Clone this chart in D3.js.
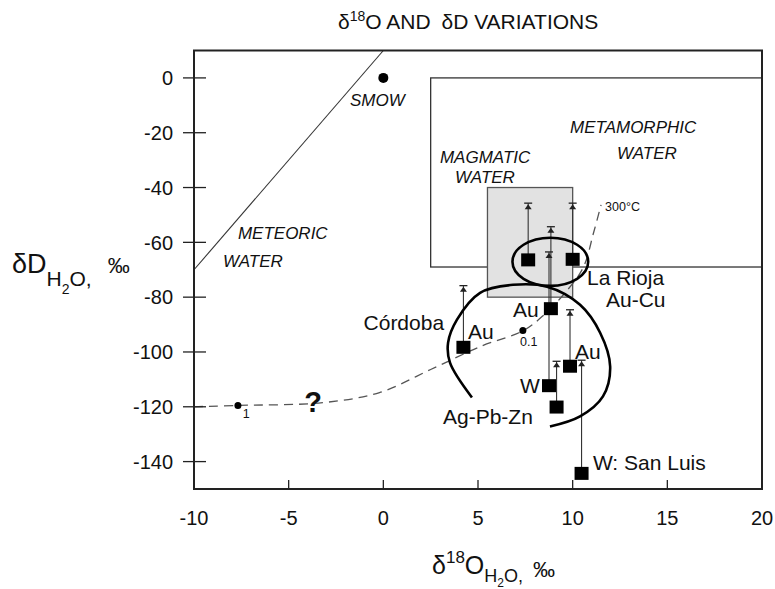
<!DOCTYPE html>
<html><head><meta charset="utf-8">
<script src="https://cdn.jsdelivr.net/npm/d3@7"></script>
<style>
html,body{margin:0;padding:0;background:#fff;}
text{font-family:"Liberation Sans",Arial,sans-serif;fill:#111;}
</style></head>
<body>
<svg id="chart" width="775" height="589"></svg>
<script>
// ---- data ----
const xTicks = [-10, -5, 0, 5, 10, 15, 20];
const yTicks = [0, -20, -40, -60, -80, -100, -120, -140];
// samples: d18O, dD, error-bar top dD
const sampleX   = [7.65, 10.0, 8.85, 8.75, 4.23, 9.86, 9.15, 10.47];
const sampleY   = [-66.4, -66.2, -84.2, -112.3, -98.3, -105.2, -120.1, -144.3];
const sampleTop = [-45.7, -45.7, -54.3, -63.5, -75.8, -84.6, -103.4, -103.0];
// meteoric water line end points
const meteoricX = [-10, 0];
const meteoricY = [-70, 10];
// boxes [x0, x1, y0, y1]
const metamorphicBox = [2.5, 20, 0, -69];
const magmaticBox = [5.5, 10, -40, -80];
// SMOW
const smow = [0, 0];
// mixing curve (dashed)
const mixX = [-10, -7.7, -3.2, -0.2, 2.5, 5.2, 7.4, 8.4, 9.5, 10.55, 11.1, 11.5];
const mixY = [-120, -119.5, -118.5, -114.8, -106.4, -97.8, -92.2, -87, -79.2, -69.3, -56.6, -46.3];
const mixDotX = [-7.68, 7.37];
const mixDotY = [-119.5, -92.2];
// La Rioja ellipse [cx, cy, rx, ry]
const rioja = [8.82, -67.1, 2.0, 8.8];
// Cordoba arc
const cordX = [4.68, 3.52, 3.42, 3.89, 5.11, 6.85, 8.65, 10.39, 11.45, 11.98, 11.6, 10.39, 8.8];
const cordY = [-116.6, -103.9, -96.6, -88.2, -78.4, -75.5, -76.2, -82.8, -93.0, -105.3, -116.2, -123.5, -127.2];
// labels
const labelText   = ["Córdoba", "Au", "Au", "Au", "W", "Ag-Pb-Zn", "W: San Luis", "La Rioja", "Au-Cu"];
const labelX      = [3.21, 4.47, 6.85, 10.12, 7.22, 3.15, 11.07, 10.76, 11.76];
const labelY      = [-92.0, -95.3, -87.3, -102.5, -114.9, -126.2, -142.9, -75.4, -83.6];
const labelAnchor = ["end", "start", "start", "start", "start", "start", "start", "start", "start"];
const fieldText = ["SMOW", "METEORIC", "WATER", "METAMORPHIC", "WATER", "MAGMATIC", "WATER"];
const fieldX    = [-1.76, -7.68, -8.47, 9.86, 12.34, 2.99, 3.79];
const fieldY    = [-10.3, -58.7, -69.0, -20.2, -29.6, -31.0, -38.4];
const smallText = ["300°C", "0.1", "1"];
const smallX    = [11.71, 7.22, -7.42];
const smallY    = [-48.6, -97.7, -124.2];

// ---- chart ----
const svg = d3.select("#chart");
const x = d3.scaleLinear().domain([-10, 20]).range([194, 762]);
const y = d3.scaleLinear().domain([-150, 10]).range([489, 50.5]);

// boxes
svg.append("rect")
  .attr("x", x(metamorphicBox[0])).attr("y", y(metamorphicBox[2]))
  .attr("width", x(metamorphicBox[1]) - x(metamorphicBox[0]))
  .attr("height", y(metamorphicBox[3]) - y(metamorphicBox[2]))
  .attr("fill", "none").attr("stroke", "#333").attr("stroke-width", 1.3);
svg.append("rect")
  .attr("x", x(magmaticBox[0])).attr("y", y(magmaticBox[2]))
  .attr("width", x(magmaticBox[1]) - x(magmaticBox[0]))
  .attr("height", y(magmaticBox[3]) - y(magmaticBox[2]))
  .attr("fill", "#e2e2e2").attr("stroke", "#555").attr("stroke-width", 1.3);

// meteoric line
svg.append("line")
  .attr("x1", x(meteoricX[0])).attr("y1", y(meteoricY[0]))
  .attr("x2", x(meteoricX[1])).attr("y2", y(meteoricY[1]))
  .attr("stroke", "#333").attr("stroke-width", 1.1);

// SMOW
svg.append("circle").attr("cx", x(smow[0])).attr("cy", y(smow[1])).attr("r", 5).attr("fill", "#000");

// dashed mixing curve
const mixLine = d3.line().x(d => x(d[0])).y(d => y(d[1])).curve(d3.curveCatmullRom);
svg.append("path").attr("d", mixLine(mixX.map((v, i) => [v, mixY[i]])))
  .attr("fill", "none").attr("stroke", "#555").attr("stroke-width", 1.3)
  .attr("stroke-dasharray", "9,6");
svg.selectAll(".mixdot").data(mixDotX).join("circle")
  .attr("cx", d => x(d)).attr("cy", (d, i) => y(mixDotY[i])).attr("r", 3.5).attr("fill", "#000");

// error bars
const bars = svg.append("g");
sampleX.forEach((sx, i) => {
  const cx = x(sx), top = y(sampleTop[i]), cy = y(sampleY[i]);
  bars.append("line").attr("x1", cx).attr("x2", cx).attr("y1", top).attr("y2", cy)
    .attr("stroke", "#333").attr("stroke-width", 1.1);
  bars.append("line").attr("x1", cx - 4).attr("x2", cx + 4).attr("y1", top).attr("y2", top)
    .attr("stroke", "#222").attr("stroke-width", 1.3);
  bars.append("path").attr("d", `M${cx},${top + 1}L${cx - 3.5},${top + 6}L${cx + 3.5},${top + 6}Z`)
    .attr("fill", "#222");
});

// ellipse & arc
svg.append("ellipse")
  .attr("cx", x(rioja[0])).attr("cy", y(rioja[1]))
  .attr("rx", x(rioja[0] + rioja[2]) - x(rioja[0]))
  .attr("ry", y(rioja[1] - rioja[3]) - y(rioja[1]))
  .attr("fill", "none").attr("stroke", "#000").attr("stroke-width", 2.6);
svg.append("path").attr("d", mixLine(cordX.map((v, i) => [v, cordY[i]])))
  .attr("fill", "none").attr("stroke", "#000").attr("stroke-width", 2.6);

// squares
svg.selectAll(".sq").data(sampleX).join("rect")
  .attr("x", d => x(d) - 7).attr("y", (d, i) => y(sampleY[i]) - 6.5)
  .attr("width", 14).attr("height", 13).attr("fill", "#000");

// labels
svg.selectAll(".lab").data(labelText).join("text")
  .attr("x", (d, i) => x(labelX[i])).attr("y", (d, i) => y(labelY[i]))
  .attr("text-anchor", (d, i) => labelAnchor[i])
  .attr("font-size", 21).text(d => d);
svg.selectAll(".field").data(fieldText).join("text")
  .attr("x", (d, i) => x(fieldX[i])).attr("y", (d, i) => y(fieldY[i]))
  .attr("font-size", 17).attr("font-style", "italic").attr("fill", "#222").text(d => d);
svg.selectAll(".small").data(smallText).join("text")
  .attr("x", (d, i) => x(smallX[i])).attr("y", (d, i) => y(smallY[i]))
  .attr("font-size", 12.5).attr("fill", "#333").text(d => d);
svg.append("text").attr("x", x(-3.71)).attr("y", y(-122)).attr("text-anchor", "middle")
  .attr("font-size", 29).attr("font-weight", "bold").text("?");

// frame
svg.append("rect").attr("x", x(-10)).attr("y", y(10))
  .attr("width", x(20) - x(-10)).attr("height", y(-150) - y(10))
  .attr("fill", "none").attr("stroke", "#222").attr("stroke-width", 2);

// axes
const yAxis = svg.append("g");
yAxis.selectAll("line").data(yTicks).join("line")
  .attr("x1", x(-10) - 11).attr("x2", x(-10) + 12)
  .attr("y1", d => y(d)).attr("y2", d => y(d)).attr("stroke", "#222").attr("stroke-width", 1.3);
yAxis.selectAll("text").data(yTicks).join("text")
  .attr("x", 173).attr("y", d => y(d)).attr("dy", "0.36em").attr("text-anchor", "end")
  .attr("font-size", 20).text(d => d);
const xAxis = svg.append("g");
xAxis.selectAll("line").data(xTicks.slice(1, -1)).join("line")
  .attr("x1", d => x(d)).attr("x2", d => x(d))
  .attr("y1", y(-150)).attr("y2", y(-150) - 9).attr("stroke", "#222").attr("stroke-width", 1.3);
xAxis.selectAll("text").data(xTicks).join("text")
  .attr("x", d => x(d)).attr("y", 525).attr("text-anchor", "middle")
  .attr("font-size", 20).text(d => d);

// titles
const t = svg.append("text").attr("x", 338).attr("y", 29).attr("font-size", 21);
t.append("tspan").text("δ");
t.append("tspan").attr("font-size", 14).attr("dy", -8).text("18");
t.append("tspan").attr("dy", 8).text("O AND ");
t.append("tspan").attr("dx", 5).text("δD VARIATIONS");

const yt = svg.append("text").attr("x", 12).attr("y", 273).attr("font-size", 27);
yt.append("tspan").text("δD");
yt.append("tspan").attr("font-size", 21).attr("dy", 13).text("H");
yt.append("tspan").attr("font-size", 14).attr("dy", 8).text("2");
yt.append("tspan").attr("font-size", 21).attr("dy", -8).text("O,");
yt.append("tspan").attr("font-size", 22).attr("dx", 16).attr("dy", -13).text("‰");

const xt = svg.append("text").attr("x", 432).attr("y", 574).attr("font-size", 25);
xt.append("tspan").text("δ");
xt.append("tspan").attr("font-size", 17).attr("dy", -11).text("18");
xt.append("tspan").attr("dy", 11).text("O");
xt.append("tspan").attr("font-size", 18).attr("dy", 8).text("H");
xt.append("tspan").attr("font-size", 12).attr("dy", 5).text("2");
xt.append("tspan").attr("font-size", 18).attr("dy", -5).text("O,");
xt.append("tspan").attr("font-size", 22).attr("dx", 10).attr("dy", -5).text("‰");
</script>
</body></html>
